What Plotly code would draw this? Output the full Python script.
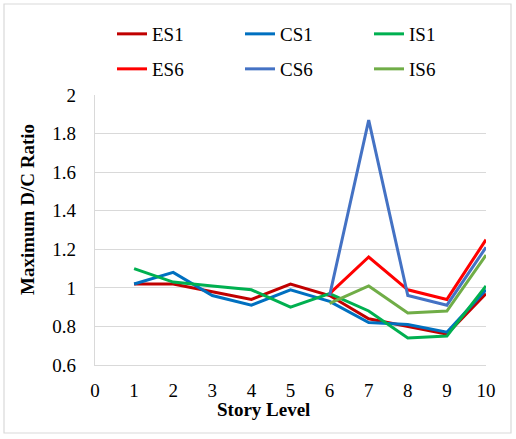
import plotly.graph_objects as go

# Story levels
story = [1, 2, 3, 4, 5, 6, 7, 8, 9, 10]
story_upper = [6, 7, 8, 9, 10]

# Maximum D/C ratios
es1 = [1.02, 1.02, 0.98, 0.94, 1.02, 0.96, 0.84, 0.80, 0.76, 0.97]
cs1 = [1.02, 1.08, 0.96, 0.91, 0.99, 0.93, 0.82, 0.81, 0.77, 0.99]
is1 = [1.10, 1.03, 1.01, 0.99, 0.90, 0.97, 0.88, 0.74, 0.75, 1.01]
es6 = [0.97, 1.16, 0.99, 0.94, 1.25]
cs6 = [0.96, 1.87, 0.96, 0.91, 1.21]
is6 = [0.92, 1.01, 0.87, 0.88, 1.17]

FONT = 'Liberation Serif'
W, H = 516, 439
ML, MR, MT, MB = 95, 30, 95, 74
pw = W - ML - MR
ph = H - MT - MB

fig = go.Figure()

# name, x, y, colour, legend column (px), legend row (px)
series = [
    ('ES1', story, es1, '#C00000', 112, 34),
    ('CS1', story, cs1, '#0070C0', 240, 34),
    ('IS1', story, is1, '#00B050', 369, 34),
    ('ES6', story_upper, es6, '#FF0000', 112, 69),
    ('CS6', story_upper, cs6, '#4472C4', 240, 69),
    ('IS6', story_upper, is6, '#70AD47', 369, 69),
]
legends = {}
for i, (name, xs, ys, color, lx, ly) in enumerate(series):
    key = 'legend' if i == 0 else 'legend%d' % (i + 1)
    fig.add_trace(go.Scatter(x=xs, y=ys, name=name, mode='lines',
                             line=dict(color=color, width=3), legend=key,
                             showlegend=True))
    legends[key] = dict(x=(lx - ML) / pw, y=1 + (MT - ly) / ph,
                        xanchor='left', yanchor='middle',
                        font=dict(family=FONT, size=19, color='black'),
                        bgcolor='rgba(0,0,0,0)')

# outer frame around the whole chart
fig.add_shape(type='rect', xref='paper', yref='paper',
              x0=(4 - ML) / pw, x1=(511 - ML) / pw,
              y0=1 - (433 - MT) / ph, y1=1 + (MT - 4) / ph,
              line=dict(color='#D9D9D9', width=1.2), layer='below')

# axis titles, centred on the chart rather than the plot area
fig.add_annotation(text='<b>Story Level</b>', xref='paper', yref='paper',
                   x=(263 - ML) / pw, y=1 - (409 - MT) / ph,
                   xanchor='center', yanchor='middle',
                   showarrow=False, font=dict(family=FONT, size=19))
fig.add_annotation(text='<b>Maximum D/C Ratio</b>', xref='paper', yref='paper',
                   x=(27 - ML) / pw, y=1 - (210 - MT) / ph, textangle=-90,
                   xanchor='center', yanchor='middle',
                   showarrow=False, font=dict(family=FONT, size=19))

fig.update_layout(
    width=W, height=H, showlegend=True,
    margin=dict(l=ML, r=MR, t=MT, b=MB, autoexpand=False),
    paper_bgcolor='white', plot_bgcolor='white',
    font=dict(family=FONT, size=19, color='black'),
    **legends,
    xaxis=dict(range=[0, 10], dtick=1, tick0=0, showgrid=False,
               showline=True, linecolor='#D9D9D9', linewidth=1.2,
               ticks='', ticklabelstandoff=8, zeroline=False,
               tickfont=dict(family=FONT, size=19)),
    yaxis=dict(range=[0.6, 2], dtick=0.2, tick0=0.6, showgrid=True,
               gridcolor='#D9D9D9', gridwidth=1.2,
               showline=True, linecolor='#D9D9D9', linewidth=1.2,
               ticks='', ticklabelstandoff=14, zeroline=False,
               tickfont=dict(family=FONT, size=19)),
)

# drop the page's default body margin so the figure sits at the top-left
fig.write_html('out.html', config={'displayModeBar': False},
               post_script="document.body.style.margin='0';")
